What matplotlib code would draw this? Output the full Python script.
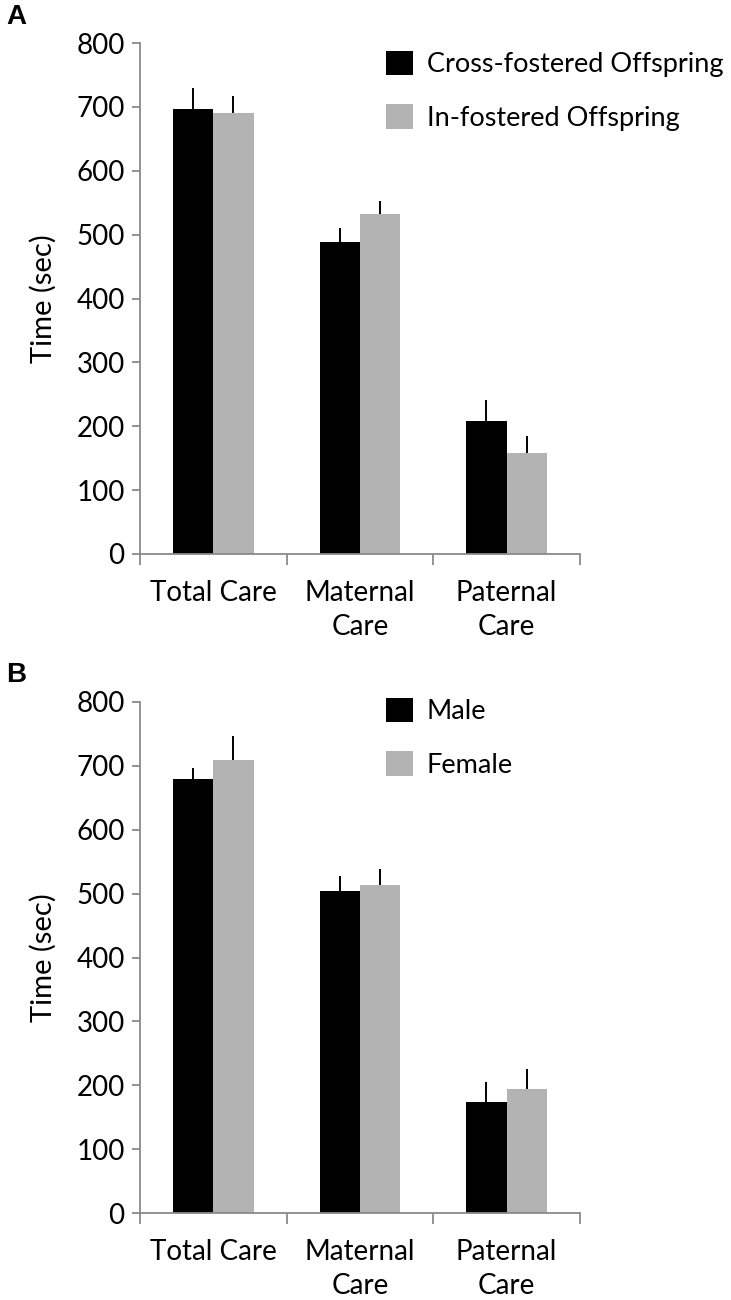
import numpy as np
import matplotlib
matplotlib.use("Agg")
import matplotlib.pyplot as plt
from matplotlib.patches import Patch

plt.rcParams['font.family'] = ['Lato', 'DejaVu Sans']

# data
categories = ["Total Care", "Maternal\nCare", "Paternal\nCare"]

# panel A
a_labels = ["Cross-fostered Offspring", "In-fostered Offspring"]
a_cross = [696, 488, 209]
a_cross_err = [33, 23, 32]
a_in = [690, 532, 158]
a_in_err = [27, 21, 27]

# panel B
b_labels = ["Male", "Female"]
b_male = [680, 504, 173]
b_male_err = [17, 23, 32]
b_female = [709, 514, 194]
b_female_err = [38, 24, 32]

black = "#000000"
grey = "#b3b3b3"
axis_grey = "#8a8a8a"
fs = 20

fig = plt.figure(figsize=(7.31, 13.0), dpi=100)

W, H = 731.0, 1300.0
def px_axes(left, right, y0, y800):
    return fig.add_axes([left / W, 1 - y0 / H, (right - left) / W, (y0 - y800) / H])

def draw_panel(ax, s1, e1, s2, e2, labels, leg_top):
    x = np.arange(len(categories))
    bw = 0.275
    ax.bar(x - bw / 2, s1, bw, color=black, zorder=2)
    ax.bar(x + bw / 2, s2, bw, color=grey, zorder=2)
    ax.errorbar(x - bw / 2, s1, yerr=[np.zeros(len(s1)), e1], fmt='none',
                ecolor=black, elinewidth=1.4, capsize=0, zorder=3)
    ax.errorbar(x + bw / 2, s2, yerr=[np.zeros(len(s2)), e2], fmt='none',
                ecolor=black, elinewidth=1.4, capsize=0, zorder=3)

    ax.set_xlim(-0.5, 2.5)
    ax.set_ylim(0, 800)
    ax.set_yticks(np.arange(0, 801, 100))
    ax.set_xticks(x)
    ax.set_xticklabels(categories, fontsize=fs, linespacing=1.38)
    ax.set_xticks([-0.5, 0.5, 1.5, 2.5], minor=True)
    ax.tick_params(axis='x', which='major', length=0, pad=19)
    ax.tick_params(axis='x', which='minor', length=8, width=1.3, color=axis_grey, direction='out')
    ax.tick_params(axis='y', length=6, width=1.3, color=axis_grey, labelsize=fs, pad=5)

    for s in ['top', 'right']:
        ax.spines[s].set_visible(False)
    for s in ['left', 'bottom']:
        ax.spines[s].set_color(axis_grey)
        ax.spines[s].set_linewidth(1.3)

    ax.set_ylabel("Time (sec)", fontsize=fs + 1)
    ax.yaxis.set_label_coords(-0.19, 0.5)

    handles = [Patch(facecolor=black), Patch(facecolor=grey)]
    fig.legend(handles, labels, loc='upper left', bbox_to_anchor=(386 / W, 1 - leg_top / H),
               bbox_transform=fig.transFigure, frameon=False, fontsize=fs - 0.5,
               handlelength=1.0, handleheight=1.0, handletextpad=0.5,
               labelspacing=1.0, borderpad=0, borderaxespad=0)

ax_a = px_axes(140, 580, 554, 43)
draw_panel(ax_a, a_cross, a_cross_err, a_in, a_in_err, a_labels, 51)
ax_b = px_axes(140, 580, 1213, 702)
draw_panel(ax_b, b_male, b_male_err, b_female, b_female_err, b_labels, 698)

fig.text(6 / W, 1 - 17 / H, "A", fontsize=20, fontweight='bold',
         family='Liberation Sans', va='center', ha='left')
fig.text(6 / W, 1 - 675 / H, "B", fontsize=20, fontweight='bold',
         family='Liberation Sans', va='center', ha='left')

fig.savefig("out.png", dpi=100)
